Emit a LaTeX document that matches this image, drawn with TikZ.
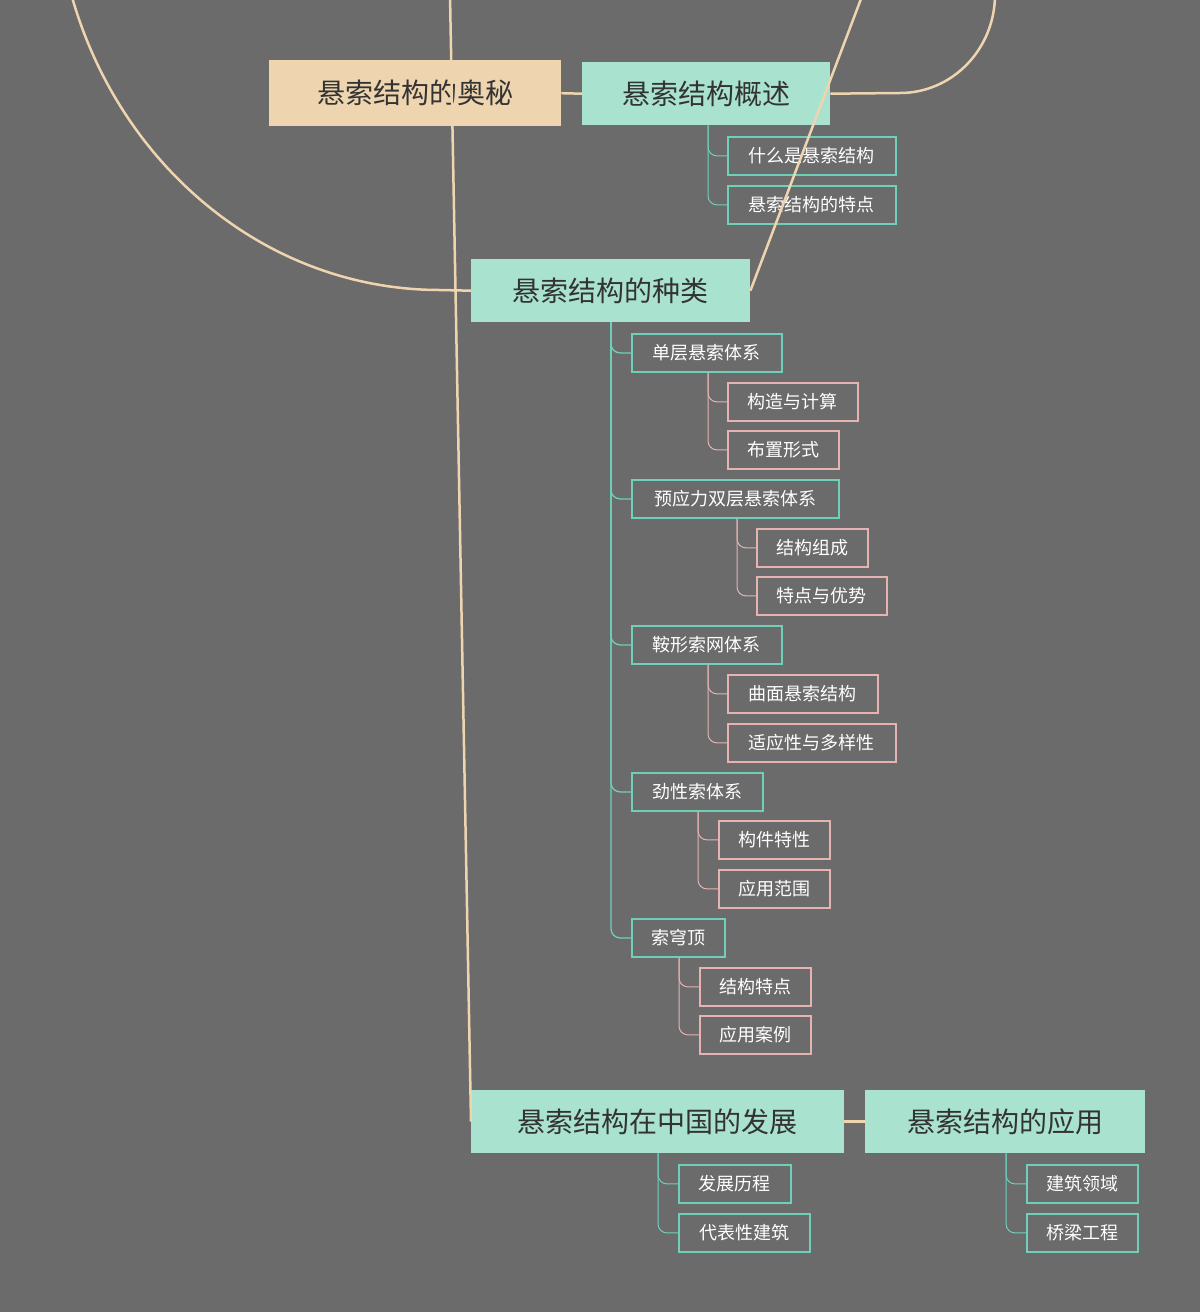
\documentclass[tikz,border=0pt]{standalone}
\usepackage{fontspec}
\setmainfont{Noto Sans CJK SC}
\begin{document}
\begin{tikzpicture}[x=1pt,y=-1pt,
  bx/.style 2 args={draw=none},
  lvl/.style={inner sep=0pt,outer sep=0pt,anchor=north west},
  ]
\definecolor{bg}{HTML}{6B6B6B}
\definecolor{tan}{HTML}{EED5B0}
\definecolor{mint}{HTML}{A9E2CF}
\definecolor{teal}{HTML}{6FD0BA}
\definecolor{pinkb}{HTML}{E6B3B3}
\definecolor{dark}{HTML}{333333}
\fill[bg] (0,0) rectangle (1200,1312);
\useasboundingbox (0,0) rectangle (1200,1312);
\newcommand{\bigbox}[7]{\node[fill=#6,draw=none,minimum width=#4-#2,minimum height=#5-#3,inner sep=0pt,anchor=north west,text=dark,font=\fontsize{28}{30}\selectfont] (#1) at (#2,#3) {#7};}
\newcommand{\smbox}[7]{\node[fill=bg,draw=#6,line width=1.8pt,minimum width=#4-#2,minimum height=#5-#3,inner sep=0pt,anchor=north west,text=white,font=\fontsize{18}{20}\selectfont] (#1) at (#2,#3) {#7};}
\bigbox{root}{269}{60}{561}{126}{tan}{悬索结构的奥秘}
\bigbox{a}{582}{62}{830}{125}{mint}{悬索结构概述}
\bigbox{b}{471}{259}{750}{322}{mint}{悬索结构的种类}
\bigbox{c}{471}{1090}{844}{1153}{mint}{悬索结构在中国的发展}
\bigbox{d}{865}{1090}{1145}{1153}{mint}{悬索结构的应用}
\smbox{a1}{727}{136}{895}{174}{teal}{什么是悬索结构}
\smbox{a2}{727}{185}{895}{223}{teal}{悬索结构的特点}
\smbox{b1}{631}{333}{781}{371}{teal}{单层悬索体系}
\smbox{b11}{727}{382}{857}{420}{pinkb}{构造与计算}
\smbox{b12}{727}{430}{838}{468}{pinkb}{布置形式}
\smbox{b2}{631}{479}{838}{517}{teal}{预应力双层悬索体系}
\smbox{b21}{756}{528}{867}{566}{pinkb}{结构组成}
\smbox{b22}{756}{576}{886}{614}{pinkb}{特点与优势}
\smbox{b3}{631}{625}{781}{663}{teal}{鞍形索网体系}
\smbox{b31}{727}{674}{877}{712}{pinkb}{曲面悬索结构}
\smbox{b32}{727}{723}{895}{761}{pinkb}{适应性与多样性}
\smbox{b4}{631}{772}{762}{810}{teal}{劲性索体系}
\smbox{b41}{718}{820}{829}{858}{pinkb}{构件特性}
\smbox{b42}{718}{869}{829}{907}{pinkb}{应用范围}
\smbox{b5}{631}{918}{724}{956}{teal}{索穹顶}
\smbox{b51}{699}{967}{810}{1005}{pinkb}{结构特点}
\smbox{b52}{699}{1015}{810}{1053}{pinkb}{应用案例}
\smbox{c1}{678}{1164}{790}{1202}{teal}{发展历程}
\smbox{c2}{678}{1213}{809}{1251}{teal}{代表性建筑}
\smbox{d1}{1026}{1164}{1137}{1202}{teal}{建筑领域}
\smbox{d2}{1026}{1213}{1137}{1251}{teal}{桥梁工程}
% main connectors
\draw[tan,line width=2.5pt] (root.east) -- (a.west);
\draw[tan,line width=2.5pt] (c.east) -- (d.west);
\coordinate (p1) at (900,93);
\coordinate (p2) at (900,290);
\draw[tan,line width=2.5pt] (a.east) -- (p1) arc[start angle=90,end angle=-90,x radius=95,y radius=98.5] -- (b.east);
\coordinate (q1) at (440,290);
\draw[tan,line width=2.5pt] (b.west) -- (q1) arc[start angle=90,end angle=270,x radius=385,y radius=415.5] -- (c.west);
% child connectors
\newcommand{\kid}[4]{\draw[#4,line width=1pt,rounded corners=9pt] (#3,0 |- #1.south) |- (#2.west);}
\kid{a}{a1}{708}{teal}\kid{a}{a2}{708}{teal}
\draw[teal,line width=1.3pt,rounded corners=9pt] (611,322) |- (b1.west);
\draw[teal,line width=1.3pt,rounded corners=9pt] (611,322) |- (b2.west);
\draw[teal,line width=1.3pt,rounded corners=9pt] (611,322) |- (b3.west);
\draw[teal,line width=1.3pt,rounded corners=9pt] (611,322) |- (b4.west);
\draw[teal,line width=1.3pt,rounded corners=9pt] (611,322) |- (b5.west);
\kid{b1}{b11}{708}{pinkb}\kid{b1}{b12}{708}{pinkb}
\kid{b2}{b21}{737}{pinkb}\kid{b2}{b22}{737}{pinkb}
\kid{b3}{b31}{708}{pinkb}\kid{b3}{b32}{708}{pinkb}
\kid{b4}{b41}{698}{pinkb}\kid{b4}{b42}{698}{pinkb}
\kid{b5}{b51}{679}{pinkb}\kid{b5}{b52}{679}{pinkb}
\kid{c}{c1}{658}{teal}\kid{c}{c2}{658}{teal}
\kid{d}{d1}{1006}{teal}\kid{d}{d2}{1006}{teal}
\end{tikzpicture}
\end{document}
